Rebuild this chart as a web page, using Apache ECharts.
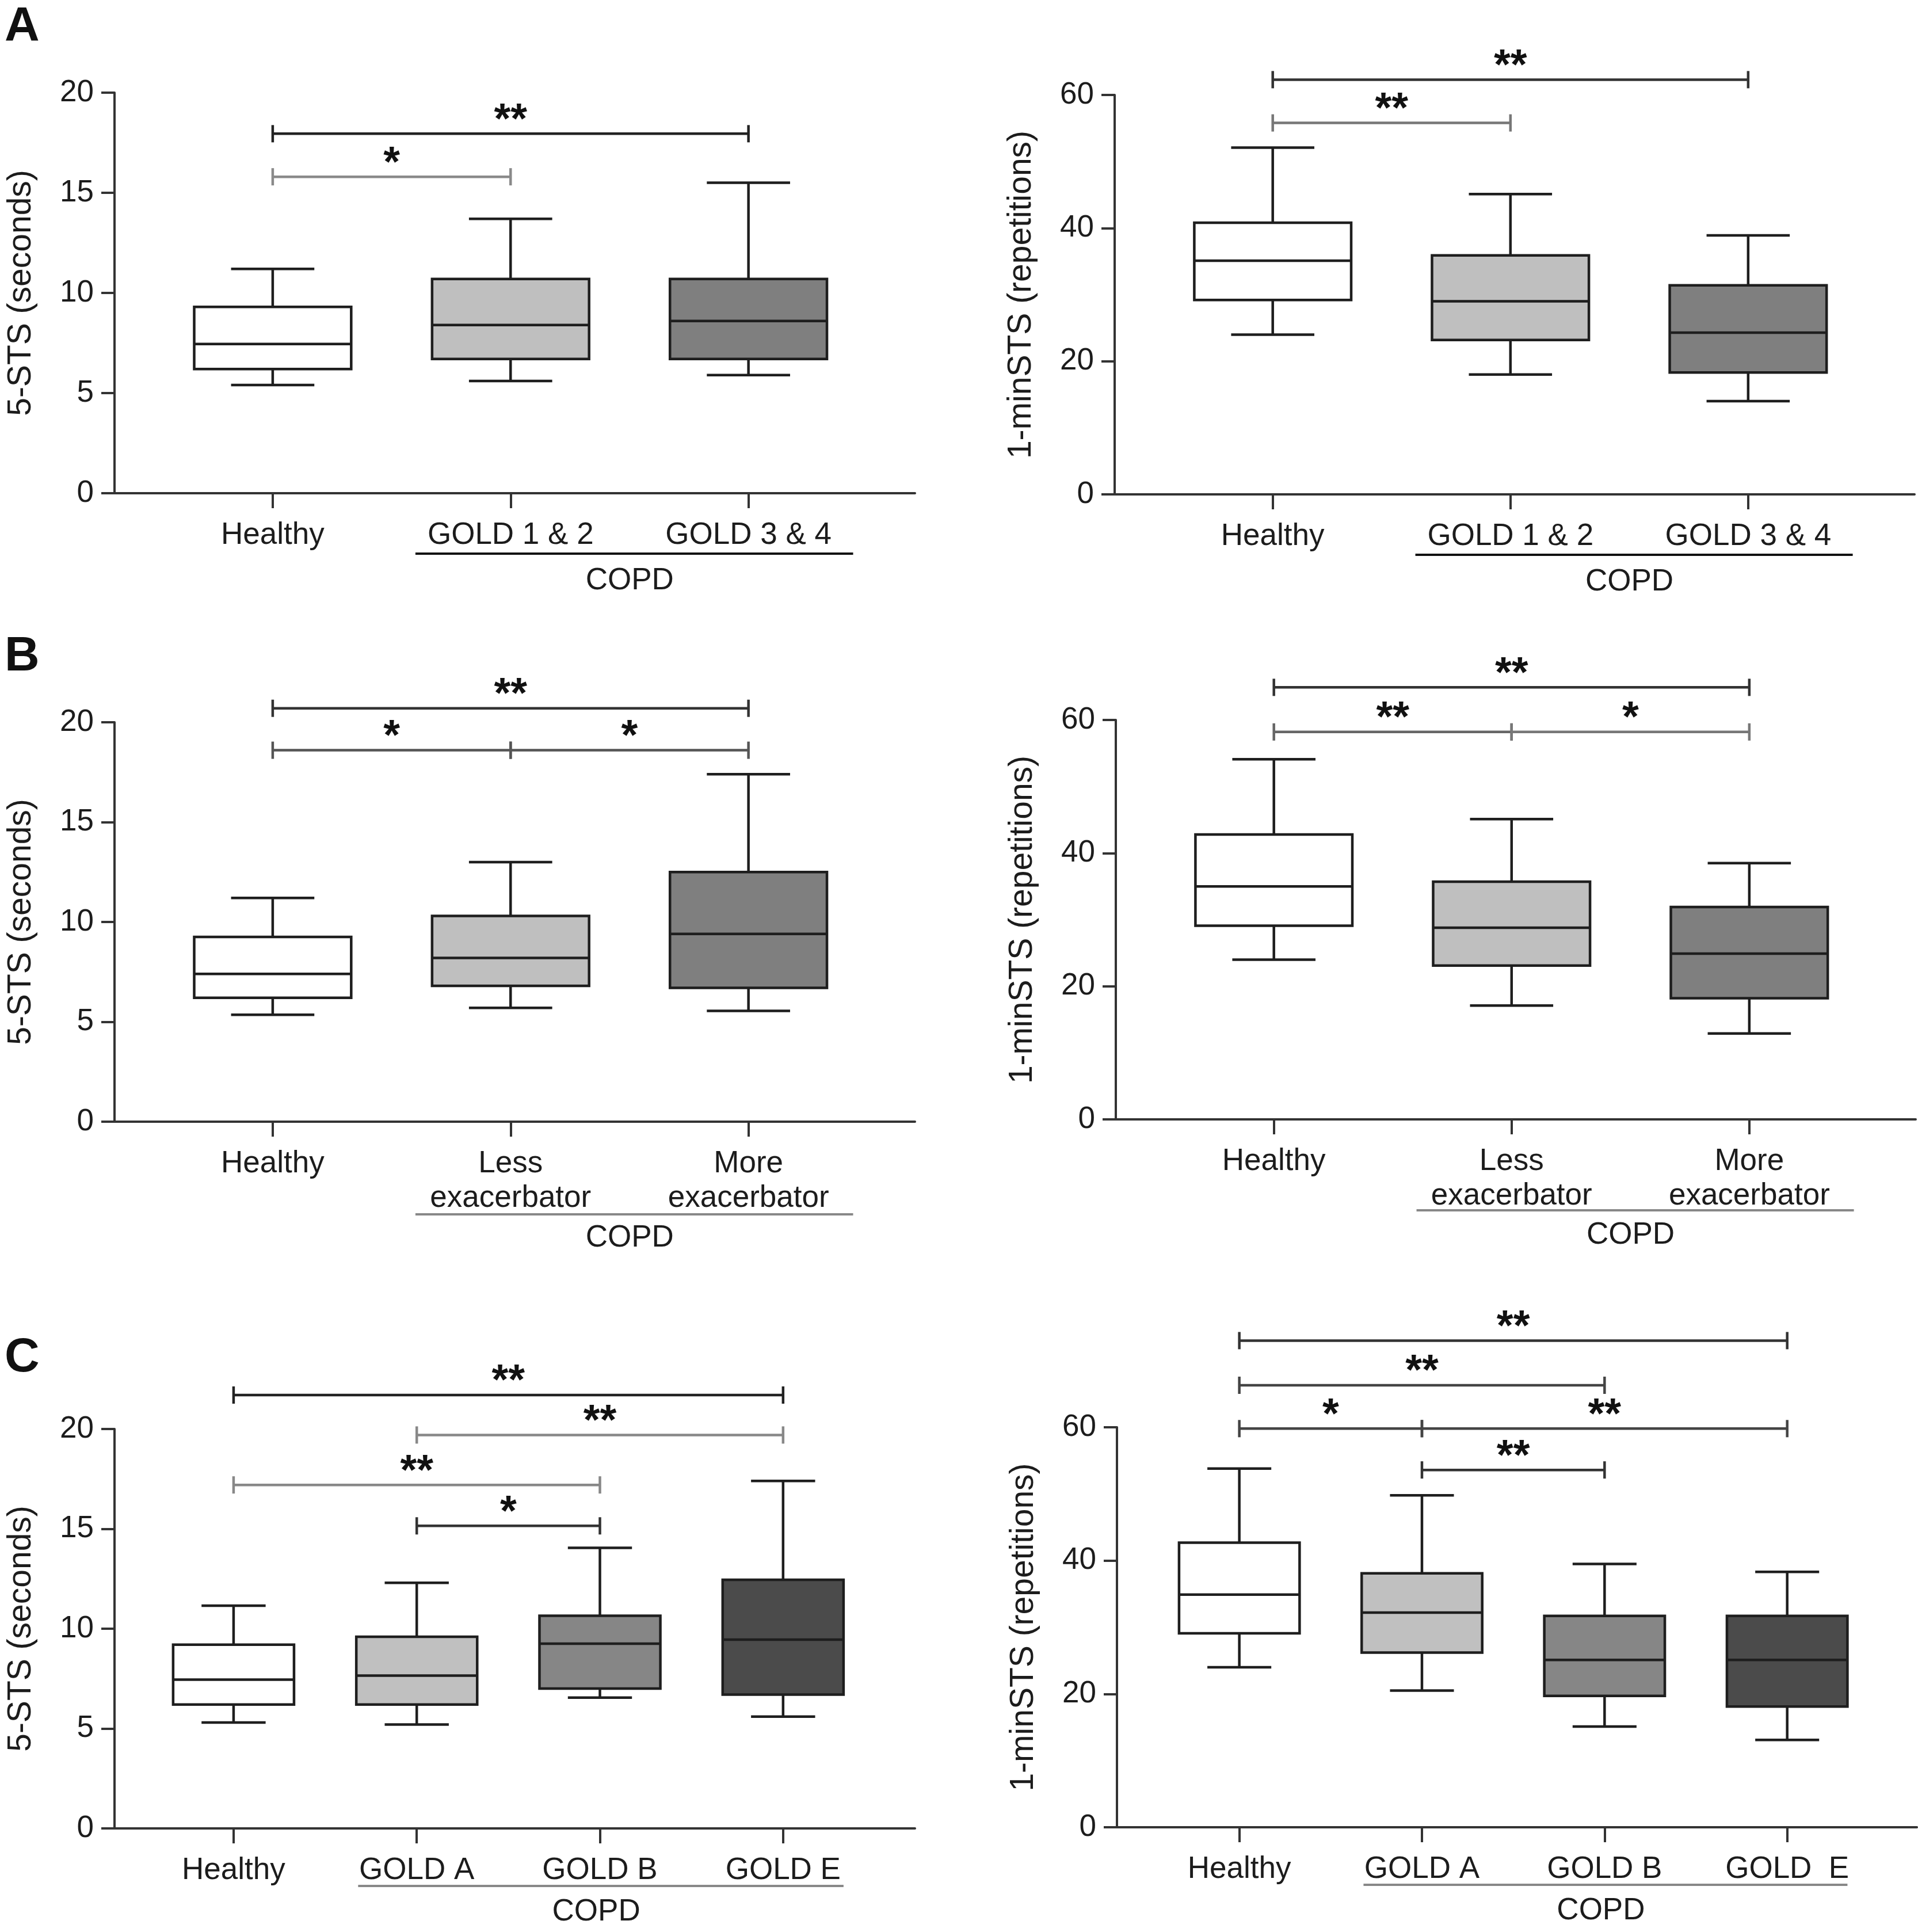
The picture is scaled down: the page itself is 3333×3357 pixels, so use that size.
<!DOCTYPE html>
<html><head><meta charset="utf-8">
<script src="https://cdn.jsdelivr.net/npm/echarts@6/dist/echarts.min.js"></script>
<style>html,body{margin:0;padding:0;background:#fff}#c{width:3333px;height:3357px}</style>
</head><body><div id="c"></div>
<script>
// ---------- DATA ----------
const catsA = ['Healthy', 'GOLD 1 & 2', 'GOLD 3 & 4'];
const catsB = ['Healthy', 'Less\nexacerbator', 'More\nexacerbator'];
const catsC = ['Healthy', 'GOLD A', 'GOLD B', 'GOLD E'];
const catsCR = ['Healthy', 'GOLD A', 'GOLD B', 'GOLD  E'];
const groupLabel = 'COPD';

// [min, Q1, median, Q3, max]
const sts5A = [[5.4, 6.2, 7.45, 9.3, 11.2], [5.6, 6.7, 8.4, 10.7, 13.7], [5.9, 6.7, 8.6, 10.7, 15.5]];
const min1A = [[24, 29.2, 35.1, 40.8, 52.1], [18, 23.2, 29, 35.9, 45.1], [14, 18.3, 24.3, 31.4, 38.9]];
const sts5B = [[5.35, 6.2, 7.4, 9.25, 11.2], [5.7, 6.8, 8.2, 10.3, 13.0], [5.55, 6.7, 9.4, 12.5, 17.4]];
const min1B = [[24, 29.1, 35, 42.8, 54.1], [17.1, 23.1, 28.8, 35.7, 45.1], [12.9, 18.2, 24.9, 31.9, 38.5]];
const sts5C = [[5.3, 6.2, 7.45, 9.2, 11.15], [5.2, 6.2, 7.65, 9.6, 12.3], [6.55, 7.0, 9.25, 10.65, 14.05], [5.6, 6.7, 9.45, 12.45, 17.4]];
const min1C = [[24, 29.1, 34.9, 42.7, 53.8], [20.5, 26.2, 32.2, 38.1, 49.8], [15.1, 19.7, 25.1, 31.7, 39.5], [13.1, 18.1, 25.1, 31.7, 38.3]];

// significance brackets: [from category, to category, y value, label]
const sigA5 = [[1, 2, 15.8, '*'], [1, 3, 17.95, '**']];
const sigA1 = [[1, 2, 55.8, '**'], [1, 3, 62.3, '**']];
const sigB5 = [[1, 3, 20.7, '**'], [1, 2, 18.6, '*'], [2, 3, 18.6, '*']];
const sigB1 = [[1, 3, 64.9, '**'], [1, 2, 58.2, '**'], [2, 3, 58.2, '*']];
const sigC5 = [[1, 4, 21.7, '**'], [2, 4, 19.7, '**'], [1, 3, 17.2, '**'], [2, 3, 15.15, '*']];
const sigC1 = [[1, 4, 73, '**'], [1, 3, 66.3, '**'], [1, 2, 59.8, '*'], [2, 4, 59.8, '**'], [2, 3, 53.6, '**']];

// COPD group span in category units
const copdSpan3 = [1.6, 3.44];
const copdSpan4 = [1.68, 4.33];

const yTitle5 = '5-STS (seconds)';
const yTitle1 = '1-minSTS (repetitions)';
const yTicks5 = [0, 20, 5];
const yTicks1 = [0, 60, 20];

// ---------- STYLE / LAYOUT ----------
const FONT = 'Liberation Sans';
const INK = '#1c1c1c';
const fills3 = ['#ffffff', '#bfbfbf', '#7f7f7f'];
const fills4 = ['#ffffff', '#c0c0c0', '#868686', '#4b4b4b'];
const toneA5 = ['#8a8a8a', '#222'];
const toneA1 = ['#777', '#333'];
const toneB5 = ['#333', '#555', '#555'];
const toneB1 = ['#333', '#666', '#777'];
const toneC5 = ['#222', '#888', '#888', '#333'];
const toneC1 = ['#333', '#444', '#444', '#444', '#333'];

const panels = [
  {cats: catsA, boxes: sts5A, sig: sigA5, tone: toneA5, span: copdSpan3, fills: fills3, yt: yTicks5, title: yTitle5, xr: [0.335, 3.70],
   grid: {left: 199, top: 161, width: 1391, height: 696}, copd: [105, 152], copdColor: '#111'},
  {cats: catsA, boxes: min1A, sig: sigA1, tone: toneA1, span: copdSpan3, fills: fills3, yt: yTicks1, title: yTitle1, xr: [0.335, 3.70],
   grid: {left: 1937, top: 165, width: 1390, height: 694}, copd: [105, 152], copdColor: '#111'},
  {cats: catsB, boxes: sts5B, sig: sigB5, tone: toneB5, span: copdSpan3, fills: fills3, yt: yTicks5, title: yTitle5, xr: [0.335, 3.70],
   grid: {left: 199, top: 1255, width: 1391, height: 694}, copd: [161, 202], copdColor: '#888'},
  {cats: catsB, boxes: min1B, sig: sigB1, tone: toneB1, span: copdSpan3, fills: fills3, yt: yTicks1, title: yTitle1, xr: [0.335, 3.70],
   grid: {left: 1939, top: 1251, width: 1390, height: 694}, copd: [158, 201], copdColor: '#888'},
  {cats: catsC, boxes: sts5C, sig: sigC5, tone: toneC5, span: copdSpan4, fills: fills4, yt: yTicks5, title: yTitle5, xr: [0.35, 4.72],
   grid: {left: 199, top: 2483, width: 1391, height: 694}, copd: [100, 145], copdColor: '#888'},
  {cats: catsCR, boxes: min1C, sig: sigC1, tone: toneC1, span: copdSpan4, fills: fills4, yt: yTicks1, title: yTitle1, xr: [0.33, 4.71],
   grid: {left: 1941, top: 2480, width: 1390, height: 695}, copd: [100, 145], copdColor: '#888'}
];

const grids = [], xAxes = [], yAxes = [], series = [];
panels.forEach((p, k) => {
  const pos = p.cats.map((c, i) => i + 1);
  grids.push(Object.assign({containLabel: false}, p.grid));
  xAxes.push({
    type: 'value', gridIndex: k, min: p.xr[0], max: p.xr[1],
    splitLine: {show: false},
    axisLine: {show: true, onZero: true, lineStyle: {color: '#333', width: 4}},
    axisTick: {show: true, customValues: pos, length: 26, lineStyle: {color: '#333', width: 4}},
    axisLabel: {show: true, customValues: pos, formatter: v => p.cats[Math.round(v) - 1] || '',
      fontSize: 53, fontFamily: FONT, color: INK, margin: 43, lineHeight: 60, verticalAlign: 'top'}
  });
  yAxes.push({
    type: 'value', gridIndex: k, min: p.yt[0], max: p.yt[1], interval: p.yt[2],
    name: p.title, nameLocation: 'middle', nameGap: 133,
    nameTextStyle: {fontSize: 57, fontFamily: FONT, color: INK},
    splitLine: {show: false},
    axisLine: {show: true, lineStyle: {color: '#333', width: 4}},
    axisTick: {show: true, length: 23, lineStyle: {color: '#333', width: 4}},
    axisLabel: {fontSize: 53, fontFamily: FONT, color: INK, margin: 36}
  });
  // boxes
  series.push({
    type: 'custom', xAxisIndex: k, yAxisIndex: k, clip: false, z: 3,
    data: p.boxes.map((b, i) => [i + 1, b[0], b[1], b[2], b[3], b[4]]),
    encode: {x: 0, y: [1, 2, 3, 4, 5]},
    renderItem(params, api) {
      const x = api.value(0);
      const w = api.size([0.66, 0])[0];
      const cw = api.size([0.35, 0])[0];
      const pMin = api.coord([x, api.value(1)]);
      const pQ1 = api.coord([x, api.value(2)]);
      const pMed = api.coord([x, api.value(3)]);
      const pQ3 = api.coord([x, api.value(4)]);
      const pMax = api.coord([x, api.value(5)]);
      const cx = pMin[0];
      const st = {stroke: '#1e1e1e', lineWidth: 4.5};
      return {type: 'group', children: [
        {type: 'line', shape: {x1: cx, y1: pQ3[1], x2: cx, y2: pMax[1]}, style: st},
        {type: 'line', shape: {x1: cx - cw / 2, y1: pMax[1], x2: cx + cw / 2, y2: pMax[1]}, style: st},
        {type: 'line', shape: {x1: cx, y1: pQ1[1], x2: cx, y2: pMin[1]}, style: st},
        {type: 'line', shape: {x1: cx - cw / 2, y1: pMin[1], x2: cx + cw / 2, y2: pMin[1]}, style: st},
        {type: 'rect', shape: {x: cx - w / 2, y: pQ3[1], width: w, height: pQ1[1] - pQ3[1]},
          style: {fill: p.fills[params.dataIndex], stroke: '#1e1e1e', lineWidth: 4.5}},
        {type: 'line', shape: {x1: cx - w / 2, y1: pMed[1], x2: cx + w / 2, y2: pMed[1]}, style: st}
      ]};
    }
  });
  // significance brackets
  series.push({
    type: 'custom', xAxisIndex: k, yAxisIndex: k, clip: false, z: 4,
    data: p.sig.map(s => [s[0], s[1], s[2]]),
    encode: {x: [0, 1], y: 2},
    renderItem(params, api) {
      const a = api.coord([api.value(0), api.value(2)]);
      const b = api.coord([api.value(1), api.value(2)]);
      const col = p.tone[params.dataIndex];
      const st = {stroke: col, lineWidth: 4.5};
      return {type: 'group', children: [
        {type: 'line', shape: {x1: a[0], y1: a[1], x2: b[0], y2: b[1]}, style: st},
        {type: 'line', shape: {x1: a[0], y1: a[1] - 15, x2: a[0], y2: a[1] + 15}, style: st},
        {type: 'line', shape: {x1: b[0], y1: b[1] - 15, x2: b[0], y2: b[1] + 15}, style: st},
        {type: 'text', x: (a[0] + b[0]) / 2, y: a[1] - 22,
          style: {text: p.sig[params.dataIndex][3], fontSize: 74, fontWeight: 'bold', fontFamily: FONT,
            fill: '#111', align: 'center', verticalAlign: 'middle'}}
      ]};
    }
  });
  // COPD group line
  series.push({
    type: 'custom', xAxisIndex: k, yAxisIndex: k, clip: false, z: 4,
    data: [[p.span[0], p.span[1], 0]],
    encode: {x: [0, 1], y: 2},
    renderItem(params, api) {
      const a = api.coord([api.value(0), api.value(2)]);
      const b = api.coord([api.value(1), api.value(2)]);
      return {type: 'group', children: [
        {type: 'line', shape: {x1: a[0], y1: a[1] + p.copd[0], x2: b[0], y2: b[1] + p.copd[0]},
          style: {stroke: p.copdColor, lineWidth: 4}},
        {type: 'text', x: (a[0] + b[0]) / 2 - 8, y: a[1] + p.copd[1],
          style: {text: groupLabel, fontSize: 53, fontFamily: FONT, fill: INK, align: 'center', verticalAlign: 'middle'}}
      ]};
    }
  });
});

const chart = echarts.init(document.getElementById('c'), null, {renderer: 'canvas'});
chart.setOption({
  backgroundColor: '#fff',
  animation: false,
  grid: grids,
  xAxis: xAxes,
  yAxis: yAxes,
  series: series,
  graphic: [
    {type: 'text', left: 8, top: 6, style: {text: 'A', fontSize: 84, fontWeight: 'bold', fontFamily: FONT, fill: '#111'}},
    {type: 'text', left: 8, top: 1100, style: {text: 'B', fontSize: 84, fontWeight: 'bold', fontFamily: FONT, fill: '#111'}},
    {type: 'text', left: 8, top: 2318, style: {text: 'C', fontSize: 84, fontWeight: 'bold', fontFamily: FONT, fill: '#111'}}
  ]
});
</script></body></html>
